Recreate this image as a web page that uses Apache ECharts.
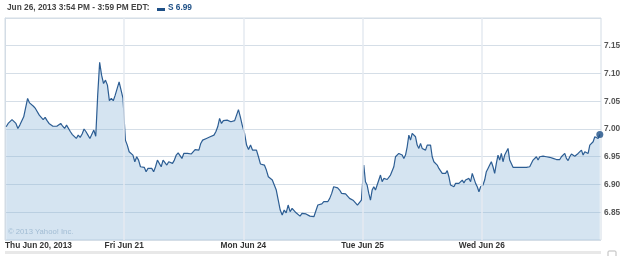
<!DOCTYPE html>
<html>
<head>
<meta charset="utf-8">
<script src="https://cdn.jsdelivr.net/npm/echarts@6/dist/echarts.min.js"></script>
<style>
html,body{margin:0;padding:0;background:#fff;}
#chart{width:625px;height:256px;}
</style>
</head>
<body>
<div id="chart"></div>
<script>
// Session labels (one per trading day)
const dayLabels = ['Thu Jun 20, 2013', 'Fri Jun 21', 'Mon Jun 24', 'Tue Jun 25', 'Wed Jun 26'];

// Intraday prices, evenly spaced through each session
const thu = [7.004, 7.010, 7.013, 7.017, 7.019, 7.010, 7.001, 7.007, 7.005, 7.022, 7.021, 7.055, 7.047, 7.045, 7.041, 7.037,
  7.034, 7.025, 7.021, 7.017, 7.021, 7.015, 7.010, 7.007, 7.005, 7.005, 7.005, 7.005, 7.010, 7.005, 7.001, 7.007, 7.010,
  6.995, 6.990, 6.987, 6.983, 6.989, 6.985, 6.991, 7.000, 6.995, 6.989, 6.983, 6.983, 6.998, 6.987, 7.061, 7.120, 7.097,
  7.082, 7.088, 7.079, 7.051, 7.055, 7.051, 7.061, 7.061, 7.085, 7.082, 7.055];
const fri = [6.980, 6.971, 6.959, 6.962, 6.953, 6.941, 6.950, 6.944, 6.932, 6.933, 6.931, 6.923, 6.929, 6.926, 6.929, 6.923,
  6.932, 6.944, 6.941, 6.932, 6.944, 6.947, 6.935, 6.941, 6.941, 6.938, 6.944, 6.953, 6.957, 6.956, 6.947, 6.956, 6.956,
  6.956, 6.955, 6.955, 6.953, 6.963, 6.965, 6.962, 6.974, 6.980, 6.977, 6.983, 6.986, 6.986, 6.989, 6.989, 6.995, 7.004,
  7.019, 7.010, 7.015, 7.013, 7.016, 7.013, 7.013, 7.010, 7.015, 7.025, 7.035, 7.022, 7.007];
const mon = [6.992, 6.971, 6.963, 6.971, 6.962, 6.959, 6.962, 6.950, 6.937, 6.936, 6.935, 6.926, 6.914, 6.917, 6.908, 6.899,
  6.890, 6.872, 6.854, 6.845, 6.854, 6.849, 6.863, 6.851, 6.857, 6.854, 6.849, 6.847, 6.843, 6.848, 6.851, 6.847, 6.845,
  6.843, 6.845, 6.842, 6.845, 6.863, 6.866, 6.865, 6.869, 6.867, 6.869, 6.875, 6.884, 6.896, 6.893, 6.894, 6.890, 6.884,
  6.883, 6.883, 6.881, 6.875, 6.877, 6.871, 6.869, 6.863, 6.860, 6.872];
const tue = [6.935, 6.905, 6.899, 6.884, 6.872, 6.890, 6.896, 6.890, 6.899, 6.902, 6.917, 6.905, 6.911, 6.908, 6.909, 6.909,
  6.917, 6.920, 6.932, 6.950, 6.953, 6.956, 6.956, 6.953, 6.947, 6.953, 6.968, 6.989, 6.980, 6.992, 6.995, 6.986, 6.971,
  6.965, 6.974, 6.965, 6.968, 6.962, 6.971, 6.971, 6.971, 6.950, 6.941, 6.938, 6.935, 6.929, 6.926, 6.920, 6.923, 6.920,
  6.925, 6.914, 6.899, 6.902, 6.896, 6.902, 6.902, 6.902, 6.905, 6.908, 6.903, 6.908, 6.905, 6.911, 6.905, 6.920, 6.911,
  6.902, 6.896, 6.887, 6.896];
const wed = [6.899, 6.908, 6.923, 6.929, 6.935, 6.941, 6.932, 6.920, 6.938, 6.953, 6.944, 6.956, 6.941, 6.953, 6.956, 6.965,
  6.944, 6.941, 6.931, 6.931, 6.931, 6.931, 6.931, 6.931, 6.931, 6.931, 6.931, 6.933, 6.932, 6.935, 6.944, 6.941, 6.950,
  6.944, 6.950, 6.947, 6.951, 6.949, 6.950, 6.947, 6.949, 6.948, 6.947, 6.946, 6.945, 6.947, 6.945, 6.950, 6.953, 6.956,
  6.947, 6.943, 6.950, 6.955, 6.953, 6.951, 6.953, 6.956, 6.953, 6.962, 6.953, 6.959, 6.962, 6.956, 6.971, 6.971, 6.977,
  6.986, 6.989, 6.983, 6.990];

// Y axis ticks
const yMin = 6.80, yMax = 7.20, yStep = 0.05;
// Header texts
const headerText = 'Jun 26, 2013 3:54 PM - 3:59 PM EDT:';
const legendText = 'S 6.99';
const copyrightText = '\u00a9 2013 Yahoo! Inc.';

const sessions = [thu, fri, mon, tue, wed];
const lineData = [];
sessions.forEach((arr, d) => {
  arr.forEach((v, i) => lineData.push([d + 0.01 + 0.98 * i / (arr.length - 1), v]));
});
const lastPoint = lineData[lineData.length - 1];

const FONT = '"Liberation Sans", Arial, sans-serif';
const chart = echarts.init(document.getElementById('chart'), null, {renderer: 'canvas'});
chart.setOption({
  animation: false,
  backgroundColor: '#fff',
  grid: {
    left: 5, right: 24, top: 18, bottom: 16,
    outerBoundsMode: 'none',
    show: true, borderColor: '#d3dce5', borderWidth: 1, backgroundColor: 'transparent'
  },
  xAxis: {
    type: 'value', min: 0, max: sessions.length, interval: 1,
    axisLine: {show: false}, axisTick: {show: false},
    splitLine: {show: false},
    axisLabel: {
      show: true, margin: 2, color: '#333', fontFamily: FONT, fontWeight: 'bold', fontSize: 8.3,
      alignMinLabel: 'left', showMaxLabel: false,
      formatter: v => dayLabels[Math.round(v)] || ''
    }
  },
  yAxis: {
    type: 'value', position: 'right', min: yMin, max: yMax, interval: yStep,
    axisLine: {show: true, lineStyle: {color: '#d3dce5'}}, axisTick: {show: false},
    splitLine: {show: true, lineStyle: {color: '#d5dee7', width: 1}},
    axisLabel: {
      margin: 3, color: '#555', fontFamily: FONT, fontWeight: 'bold', fontSize: 8.3,
      showMinLabel: false, showMaxLabel: false,
      formatter: v => v.toFixed(2)
    }
  },
  series: [
    {
      type: 'line', data: lineData, showSymbol: false, symbol: 'none',
      lineStyle: {color: '#2c5d93', width: 1.2},
      areaStyle: {color: 'rgb(138,181,215)', opacity: 0.36, origin: 'start'},
      markLine: {
        silent: true, symbol: 'none', label: {show: false},
        lineStyle: {color: '#e4eaf1', width: 1.5, type: 'solid'},
        data: [1, 2, 3, 4].map(x => ({xAxis: x}))
      },
      z: 2
    },
    {
      type: 'scatter', data: [lastPoint], symbol: 'circle', symbolSize: 7,
      itemStyle: {color: '#1d4f86'}, z: 5, silent: true
    }
  ],
  graphic: [
    {type: 'text', left: 7, top: 4, style: {text: headerText, font: 'bold 8.3px ' + FONT, fill: '#444'}},
    {type: 'rect', shape: {x: 157, y: 8, width: 8, height: 3}, style: {fill: '#1d4f86'}},
    {type: 'text', left: 168, top: 4, style: {text: legendText, font: 'bold 8.3px ' + FONT, fill: '#1d4f86'}},
    {type: 'text', left: 8, top: 228, style: {text: copyrightText, font: '7.7px ' + FONT, fill: '#b0c2d2'}},
    {type: 'rect', shape: {x: 5, y: 251, width: 596, height: 3}, style: {fill: '#e8e8e8'}},
    {type: 'rect', shape: {x: 608, y: 251, width: 8, height: 6, r: 1}, style: {fill: '#fff', stroke: '#bbb', lineWidth: 1}}
  ]
});
</script>
</body>
</html>
